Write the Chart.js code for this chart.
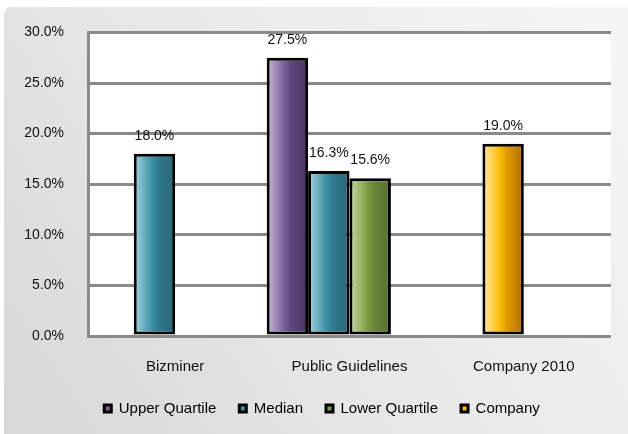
<!DOCTYPE html>
<html>
<head>
<meta charset="utf-8">
<script src="https://cdn.jsdelivr.net/npm/chart.js@4"></script>
<style>
  html, body { margin: 0; padding: 0; background: #fff; }
  #wrap { width: 628px; height: 434px; }
</style>
</head>
<body>
<div id="wrap"><canvas id="ratio-chart"></canvas></div>
<script>
const categories = ['Bizminer', 'Public Guidelines', 'Company 2010'];
const upperQuartile = [null, 27.5, null];
const median = [18.0, 16.3, null];
const lowerQuartile = [null, 15.6, null];
const company = [null, null, 19.0];
const yTicks = [0, 5, 10, 15, 20, 25, 30];

// light edge -> mid -> dark edge, for the shaded "cylinder" bars
const purpleShades = ['#cbbcd9', '#7a5e9a', '#5e4580', '#4a3561'];
const tealShades = ['#aad6e2', '#3f93a8', '#307a8e', '#2a6577'];
const greenShades = ['#cbdaa9', '#7e9e44', '#68863a', '#56702f'];
const goldShades = ['#ffe9a6', '#fbbd08', '#e09a00', '#b06a00'];

const FONT = '"Liberation Sans", Arial, sans-serif';
Chart.defaults.font.family = FONT;
Chart.defaults.color = '#111';

function barFill(shades) {
    return function (ctx) {
        const el = ctx.element;
        if (ctx.type !== 'data' || !el || el.x === undefined || !el.width) return shades[1];
        const half = el.width / 2;
        const g = ctx.chart.ctx.createLinearGradient(el.x - half, 0, el.x + half, 0);
        g.addColorStop(0, shades[0]);
        g.addColorStop(0.42, shades[1]);
        g.addColorStop(0.6, shades[2]);
        g.addColorStop(1, shades[3]);
        return g;
    };
}

// gray card behind everything, white plot area
const backdrop = {
    id: 'backdrop',
    afterLayout(chart) {
        // nudge the legend row a little to the right
        chart.legend.left += 8;
        chart.legend.right += 8;
    },
    beforeDraw(chart) {
        const { ctx, width, height, chartArea } = chart;
        ctx.save();
        ctx.fillStyle = '#fff';
        ctx.fillRect(0, 0, width, height);
        const g = ctx.createLinearGradient(width - 20, 10, 20, height - 20);
        g.addColorStop(0, '#f5f5f5');
        g.addColorStop(0.55, '#e8e8e8');
        g.addColorStop(1, '#d8d8d8');
        ctx.fillStyle = g;
        ctx.beginPath();
        ctx.roundRect(4, 7, width + 10, height + 10, 7);
        ctx.fill();
        ctx.fillStyle = '#fff';
        ctx.fillRect(chartArea.left, chartArea.top, chartArea.right - chartArea.left, chartArea.bottom - chartArea.top);
        ctx.restore();
    }
};

// percentage printed above each bar
const valueLabels = {
    id: 'valueLabels',
    afterDatasetsDraw(chart) {
        const { ctx } = chart;
        ctx.save();
        ctx.font = '14px ' + FONT;
        ctx.fillStyle = '#111';
        ctx.textAlign = 'center';
        ctx.textBaseline = 'alphabetic';
        chart.data.datasets.forEach((ds, i) => {
            if (!ds.label) return;
            chart.getDatasetMeta(i).data.forEach((bar, j) => {
                const v = ds.data[j];
                if (v === null || v === undefined) return;
                ctx.fillText(v.toFixed(1) + '%', bar.x, bar.y - 14);
            });
        });
        ctx.restore();
    }
};

const chart = new Chart(document.getElementById('ratio-chart'), {
    type: 'bar',
    data: {
        labels: categories,
        datasets: [
            { label: 'Upper Quartile', data: upperQuartile, stack: 'uq', backgroundColor: barFill(purpleShades), legendColor: purpleShades[1] },
            { label: 'Median', data: median, stack: 'md', backgroundColor: barFill(tealShades), legendColor: tealShades[1] },
            { label: 'Lower Quartile', data: lowerQuartile, stack: 'lq', backgroundColor: barFill(greenShades), legendColor: greenShades[1] },
            // company sits in the median slot of its own group
            { label: 'Company', data: company, stack: 'md', backgroundColor: barFill(goldShades), legendColor: goldShades[1] },
            // empty fourth slot in every group
            { label: '', data: [null, null, null], stack: 'pad', backgroundColor: 'rgba(0,0,0,0)' }
        ].map(ds => Object.assign(ds, {
            borderColor: '#000',
            borderWidth: 3,
            borderSkipped: false,
            categoryPercentage: 0.95,
            barPercentage: 1.0
        }))
    },
    options: {
        responsive: true,
        maintainAspectRatio: false,
        animation: false,
        layout: { padding: { top: 32, right: 17, bottom: 8, left: 17 } },
        scales: {
            x: {
                grid: { display: false, drawTicks: false },
                border: { display: false },
                ticks: { padding: 22, color: '#111', font: { size: 15 } },
                afterFit(scale) { scale.height = 42; }
            },
            y: {
                min: 0,
                max: 30,
                grid: { color: '#8a8a8a', lineWidth: 3, drawTicks: false },
                border: { display: true, color: '#8a8a8a', width: 3 },
                ticks: {
                    padding: 24,
                    color: '#111',
                    font: { size: 14 },
                    callback: v => v.toFixed(1) + '%'
                },
                afterBuildTicks(scale) { scale.ticks = yTicks.map(v => ({ value: v })); },
                afterFit(scale) { scale.width = 71; }
            }
        },
        plugins: {
            tooltip: { enabled: false },
            legend: {
                position: 'bottom',
                labels: {
                    boxWidth: 7,
                    boxHeight: 7,
                    padding: 23,
                    color: '#111',
                    font: { size: 15 },
                    generateLabels: c => c.data.datasets
                        .map((ds, i) => ({
                            text: ds.label,
                            fillStyle: ds.legendColor,
                            strokeStyle: '#000',
                            lineWidth: 3,
                            hidden: false,
                            datasetIndex: i
                        }))
                        .filter(item => item.text)
                }
            }
        }
    },
    plugins: [backdrop, valueLabels]
});

// second pass so the bar gradients can use the laid-out bar positions
chart.update('none');
</script>
</body>
</html>
